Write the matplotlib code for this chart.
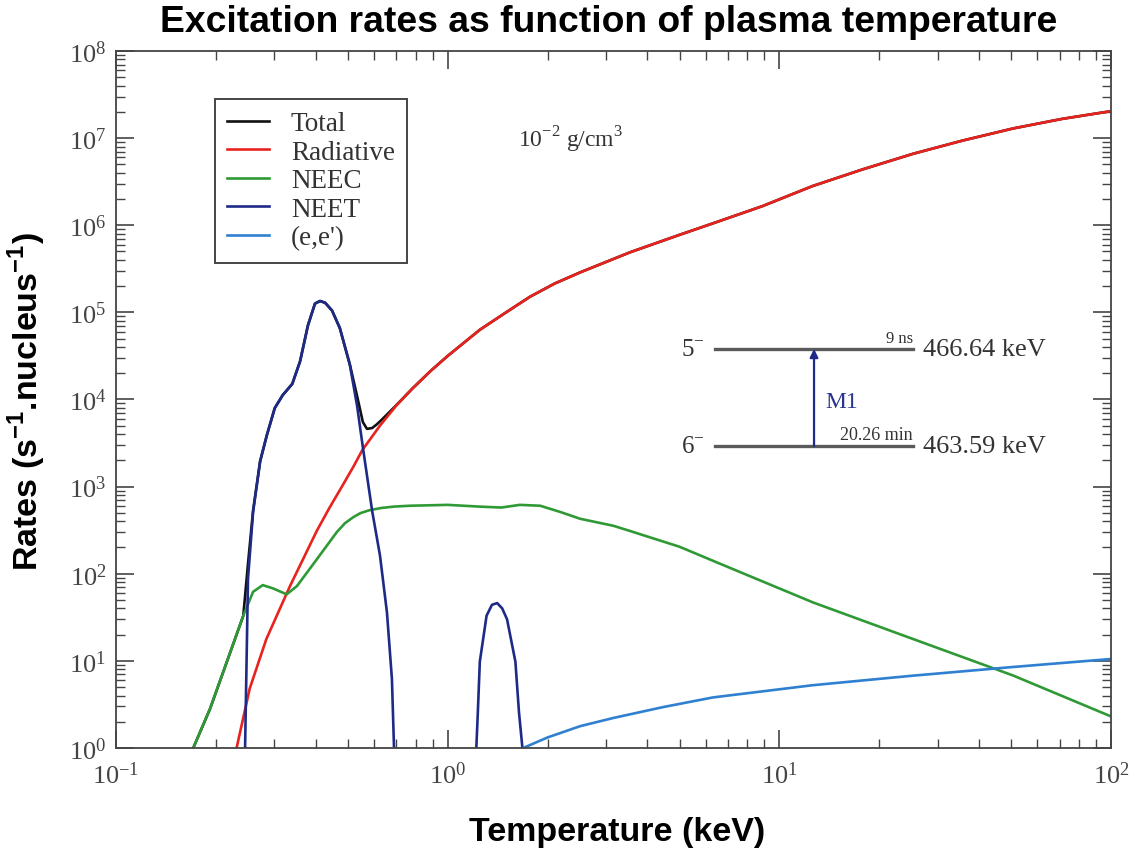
import numpy as np
import matplotlib.pyplot as plt
from matplotlib.ticker import LogLocator, NullFormatter

# temperature (keV) and excitation rates (s^-1 per nucleus)
total_T = [0.171, 0.192, 0.216, 0.242, 0.250, 0.259, 0.272, 0.285, 0.301, 0.318,
           0.340, 0.359, 0.379, 0.398, 0.412, 0.427, 0.448, 0.473, 0.507, 0.533,
           0.555, 0.571, 0.592, 0.612, 0.634, 0.700, 0.785, 0.89, 1.0, 1.25,
           1.5, 1.77, 2.1, 2.51, 3.55, 5.0, 6.3, 8.9, 12.6, 17.8, 25.3, 35.5,
           50.6, 71, 100]
total_R = [1.0, 2.8, 9.8, 33, 130, 530, 1960, 3900, 7950, 11200,
           15100, 27500, 70800, 1.26e5, 1.35e5, 1.29e5, 1.05e5, 6.6e4, 2.52e4, 1.1e4,
           5500, 4600, 4700, 5200, 5900, 8600, 1.35e4, 2.14e4, 3.16e4, 6.31e4,
           1.0e5, 1.51e5, 2.14e5, 2.88e5, 4.9e5, 7.76e5, 1.05e6, 1.66e6, 2.82e6,
           4.37e6, 6.61e6, 9.33e6, 1.29e7, 1.66e7, 2.04e7]

rad_T = [0.231, 0.253, 0.284, 0.334, 0.36, 0.403, 0.44, 0.482, 0.52, 0.553,
         0.625, 0.700, 0.785, 0.89, 1.0, 1.25, 1.5, 1.77, 2.1, 2.51,
         3.55, 5.0, 6.3, 8.9, 12.6, 17.8, 25.3, 35.5, 50.6, 71, 100]
rad_R = [1.0, 4.8, 17.8, 71, 128, 310, 570, 1030, 1700, 2630,
         5010, 8510, 1.35e4, 2.14e4, 3.16e4, 6.31e4, 1.0e5, 1.51e5, 2.14e5, 2.88e5,
         4.9e5, 7.76e5, 1.05e6, 1.66e6, 2.82e6, 4.37e6, 6.61e6, 9.33e6, 1.29e7,
         1.66e7, 2.04e7]

neec_T = [0.171, 0.192, 0.216, 0.242, 0.259, 0.277, 0.297, 0.327, 0.351, 0.404,
          0.463, 0.49, 0.519, 0.545, 0.58, 0.63, 0.69, 0.769, 1.0, 1.25,
          1.45, 1.65, 1.90, 2.18, 2.51, 3.16, 3.55, 5.0, 6.3, 12.6,
          25.3, 50.6, 100]
neec_R = [1.0, 2.8, 9.8, 33, 62, 74, 68, 58, 72, 148,
          300, 380, 445, 495, 535, 568, 590, 603, 617, 589,
          575, 617, 603, 513, 427, 355, 309, 204, 141, 47,
          17.8, 6.8, 2.3]

neet_T = [0.245, 0.250, 0.259, 0.272, 0.285, 0.301, 0.318, 0.340, 0.359, 0.379,
          0.398, 0.412, 0.427, 0.448, 0.473, 0.507, 0.533, 0.555, 0.592, 0.625,
          0.656, 0.679, 0.689]
neet_R = [1.0, 87, 513, 1950, 3890, 7940, 11200, 15100, 27500, 70800,
          1.26e5, 1.35e5, 1.29e5, 1.05e5, 6.6e4, 2.51e4, 8510, 2820, 525, 162,
          36, 6.2, 1.0]
neet2_T = [1.22, 1.233, 1.25, 1.31, 1.36, 1.41, 1.46, 1.51, 1.60, 1.64, 1.68]
neet2_R = [1.0, 2.6, 9.8, 33, 44, 46, 40, 30, 9.8, 2.6, 1.0]

ee_T = [1.69, 2.0, 2.51, 3.16, 4.47, 6.3, 12.6, 25.3, 50.6, 100]
ee_R = [1.0, 1.32, 1.78, 2.21, 2.95, 3.8, 5.25, 6.76, 8.5, 10.5]

SERIF = 'Liberation Serif'
SANS = 'Liberation Sans'
grey = '#444444'

fig = plt.figure(figsize=(11.35, 8.54), dpi=100)
ax = fig.add_axes([0.1022, 0.1230, 0.8767, 0.8161])

lw = 1.9
ax.plot(total_T, total_R, color='#111111', lw=lw, label='Total')
ax.plot(rad_T, rad_R, color='#e8231e', lw=lw, label='Radiative')
ax.plot(neec_T, neec_R, color='#2f9a35', lw=lw, label='NEEC')
neet_x = neet_T + [np.nan] + neet2_T
neet_y = neet_R + [np.nan] + neet2_R
ax.plot(neet_x, neet_y, color='#1e2a87', lw=lw, label='NEET')
ax.plot(ee_T, ee_R, color='#2f80d0', lw=lw, label="(e,e')")

ax.set_xscale('log')
ax.set_yscale('log')
ax.set_xlim(0.1, 100)
ax.set_ylim(1, 1e8)
for axis in (ax.xaxis, ax.yaxis):
    axis.set_major_locator(LogLocator(base=10, numticks=20))
    axis.set_minor_locator(LogLocator(base=10, subs=np.arange(2, 10), numticks=20))
    axis.set_minor_formatter(NullFormatter())

ax.tick_params(which='both', direction='in', top=True, right=True, color=grey)
ax.tick_params(which='major', length=13, width=1.2, labelsize=19,
               labelcolor=grey, labelfontfamily=SERIF)
ax.tick_params(axis='y', which='major', pad=7)
ax.tick_params(axis='x', which='major', pad=10)
ax.tick_params(which='minor', length=6.5, width=1.0)
for sp in ax.spines.values():
    sp.set_color(grey)
    sp.set_linewidth(1.3)

leg = ax.legend(loc='upper left', bbox_to_anchor=(0.0995, 0.931), borderaxespad=0,
                prop={'family': SERIF, 'size': 19.5}, labelspacing=0.13,
                handlelength=1.55, handletextpad=0.8, borderpad=0.45,
                fancybox=False, framealpha=1)
leg.get_frame().set_edgecolor(grey)
leg.get_frame().set_linewidth(1.4)
for t in leg.get_texts():
    t.set_color('#333333')

ax.text(0.404, 0.874, r'10$^{\mathregular{-2}}$ g/cm$^{\mathregular{3}}$',
        transform=ax.transAxes, family=SERIF, fontsize=17, color='#333333',
        va='center', ha='left')

# level scheme inset
lv_x0, lv_x1 = 0.602, 0.801
up_y, lo_y = 0.5725, 0.4333
ax.plot([lv_x0, lv_x1], [up_y, up_y], transform=ax.transAxes, color='#5a5a5a', lw=2.4)
ax.plot([lv_x0, lv_x1], [lo_y, lo_y], transform=ax.transAxes, color='#5a5a5a', lw=2.4)
ax.annotate('', xy=(0.7015, up_y), xytext=(0.7015, lo_y),
            xycoords='axes fraction', textcoords='axes fraction',
            arrowprops=dict(arrowstyle='-|>', color='#1e2a87', lw=1.6,
                            mutation_scale=12, shrinkA=0, shrinkB=0))
ax.text(0.7126, 0.4978, 'M1', transform=ax.transAxes, family=SERIF, fontsize=17,
        color='#2a3590', va='center', ha='left')
ax.text(0.592, up_y, r'5$^{\mathregular{-}}$', transform=ax.transAxes, family=SERIF,
        fontsize=18, color='#333333', va='center', ha='right')
ax.text(0.592, lo_y, r'6$^{\mathregular{-}}$', transform=ax.transAxes, family=SERIF,
        fontsize=18, color='#333333', va='center', ha='right')
ax.text(lv_x1, up_y + 0.004, '9 ns', transform=ax.transAxes, family=SERIF,
        fontsize=12, color='#333333', va='bottom', ha='right')
ax.text(lv_x1, lo_y + 0.004, '20.26 min', transform=ax.transAxes, family=SERIF,
        fontsize=13, color='#333333', va='bottom', ha='right')
ax.text(0.811, up_y, '466.64 keV', transform=ax.transAxes, family=SERIF,
        fontsize=19, color='#333333', va='center', ha='left')
ax.text(0.811, lo_y, '463.59 keV', transform=ax.transAxes, family=SERIF,
        fontsize=19, color='#333333', va='center', ha='left')

fig.text(0.536, 0.974, 'Excitation rates as function of plasma temperature',
         ha='center', va='center', fontsize=26.8, fontweight='bold', family=SANS)
ax.set_xlabel('Temperature (keV)', fontsize=24.5, fontweight='bold', family=SANS,
              va='center')
ax.xaxis.set_label_coords(0.5035, -0.1205)
ax.set_ylabel(r'Rates (s$^{\mathregular{-1}}$.nucleus$^{\mathregular{-1}}$)',
              fontsize=24.5, fontweight='bold', family=SANS, va='center')
ax.yaxis.set_label_coords(-0.0894, 0.498)

fig.savefig('out.png', dpi=100)
